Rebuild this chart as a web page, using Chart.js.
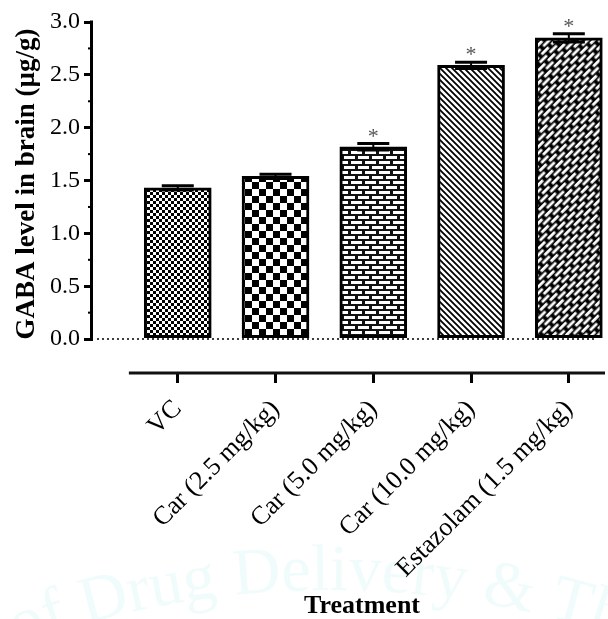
<!DOCTYPE html>
<html>
<head>
<meta charset="utf-8">
<title>GABA level in brain</title>
<script src="https://cdn.jsdelivr.net/npm/chart.js@4.4.1/dist/chart.umd.min.js"></script>
<style>
  html, body { margin: 0; padding: 0; background: #fff; }
  #chart { display: block; }
</style>
</head>
<body>
<canvas id="chart" width="608" height="619"></canvas>
<script>
// values
const categories = ['VC', 'Car (2.5 mg/kg)', 'Car (5.0 mg/kg)', 'Car (10.0 mg/kg)', 'Estazolam (1.5 mg/kg)'];
const gabaMeans = [1.43, 1.54, 1.82, 2.59, 2.85];
const gabaSem = [0.02, 0.02, 0.03, 0.03, 0.04];
const significant = [false, false, true, true, true];
const yTicks = [0, 0.5, 1.0, 1.5, 2.0, 2.5, 3.0];
const yMinorTicks = [0.25, 0.75, 1.25, 1.75, 2.25, 2.75];

const serif = "'Liberation Serif', 'Times New Roman', serif";

// small tiles used as bar fills
function makeTile(w, h, draw) {
  const c = document.createElement('canvas');
  c.width = w; c.height = h;
  const g = c.getContext('2d');
  draw(g, w, h);
  return c;
}

function fillPatterns(ctx) {
  const fineChecker = makeTile(6, 6, (g) => {
    g.fillStyle = '#fff'; g.fillRect(0, 0, 6, 6);
    g.fillStyle = '#000'; g.fillRect(0, 0, 3, 3); g.fillRect(3, 3, 3, 3);
  });
  const bigChecker = makeTile(14, 14, (g) => {
    g.fillStyle = '#fff'; g.fillRect(0, 0, 14, 14);
    g.fillStyle = '#000'; g.fillRect(0, 0, 7, 7); g.fillRect(7, 7, 7, 7);
  });
  const bricks = makeTile(14, 10, (g) => {
    g.fillStyle = '#111'; g.fillRect(0, 0, 14, 10);
    g.fillStyle = '#fff';
    g.fillRect(1, 1, 11, 3);
    g.fillRect(-6, 6, 11, 3); g.fillRect(8, 6, 11, 3);
  });
  const diag = makeTile(6, 6, (g) => {
    g.fillStyle = '#fff'; g.fillRect(0, 0, 6, 6);
    g.strokeStyle = '#000'; g.lineWidth = 1.8;
    g.beginPath();
    [-6, 0, 6].forEach(k => { g.moveTo(k - 1, -1); g.lineTo(k + 7, 7); });
    g.stroke();
  });
  const diagBricks = makeTile(14, 9, (g) => {
    g.fillStyle = '#000'; g.fillRect(0, 0, 14, 9);
    g.fillStyle = '#fff';
    g.fillRect(1.5, 1.5, 10, 2.8);
    g.fillRect(-5.5, 6, 10, 2.8); g.fillRect(8.5, 6, 10, 2.8);
  });

  const p5 = ctx.createPattern(diagBricks, 'repeat');
  p5.setTransform(new DOMMatrix().rotateSelf(-45));
  return [
    ctx.createPattern(fineChecker, 'repeat'),
    ctx.createPattern(bigChecker, 'repeat'),
    ctx.createPattern(bricks, 'repeat'),
    ctx.createPattern(diag, 'repeat'),
    p5
  ];
}

// faint circular watermark of the journal
const watermark = {
  id: 'watermark',
  beforeDraw(chart) {
    const ctx = chart.ctx;
    const text = 'of Drug Delivery & Thera';
    const cx = 330, cy = 1490, r = 900;
    ctx.save();
    ctx.fillStyle = 'rgba(120, 215, 215, 0.11)';
    ctx.font = "66px " + serif;
    ctx.textAlign = 'center';
    ctx.textBaseline = 'alphabetic';
    const total = ctx.measureText(text).width;
    let a = -Math.PI / 2 - (total / 2) / r + 0.03;
    for (const ch of text) {
      const w = ctx.measureText(ch).width;
      a += (w / 2) / r;
      ctx.save();
      ctx.translate(cx + r * Math.cos(a), cy + r * Math.sin(a));
      ctx.rotate(a + Math.PI / 2);
      ctx.fillText(ch, 0, 0);
      ctx.restore();
      a += (w / 2) / r;
    }
    ctx.restore();
  }
};

// axis lines, minor ticks, dotted zero line
const axesLines = {
  id: 'axesLines',
  beforeDatasetsDraw(chart) {
    const { ctx, chartArea, scales } = chart;
    const y0 = scales.y.getPixelForValue(0);
    ctx.save();
    ctx.strokeStyle = '#000';
    ctx.lineWidth = 1.6;
    ctx.setLineDash([2, 3]);
    ctx.beginPath();
    ctx.moveTo(chartArea.left + 4, y0);
    ctx.lineTo(chartArea.right - 8, y0);
    ctx.stroke();
    ctx.setLineDash([]);
    ctx.restore();
  },
  afterDraw(chart) {
    const { ctx, chartArea, scales } = chart;
    const y = scales.y, x = scales.x;
    const left = chartArea.left;
    ctx.save();
    ctx.strokeStyle = '#000';
    ctx.lineWidth = 3;
    ctx.beginPath();
    ctx.moveTo(left - 1.5, y.getPixelForValue(3.0) - 1.5);
    ctx.lineTo(left - 1.5, y.getPixelForValue(0) + 1.5);
    ctx.stroke();

    ctx.lineWidth = 2;
    yMinorTicks.forEach(v => {
      const py = y.getPixelForValue(v);
      ctx.beginPath();
      ctx.moveTo(left - 5, py);
      ctx.lineTo(left, py);
      ctx.stroke();
    });

    ctx.lineWidth = 3;
    ctx.strokeStyle = '#111';
    ctx.beginPath();
    ctx.moveTo(x.getPixelForValue(-0.5), chartArea.bottom);
    ctx.lineTo(chartArea.right, chartArea.bottom);
    ctx.stroke();
    ctx.restore();
  }
};

// SEM error bars and significance marks
const errorBars = {
  id: 'errorBars',
  afterDatasetsDraw(chart) {
    const { ctx, scales } = chart;
    const x = scales.x, y = scales.y;
    ctx.save();
    ctx.strokeStyle = '#000';
    gabaMeans.forEach((m, i) => {
      const px = x.getPixelForValue(i);
      const hi = y.getPixelForValue(m + gabaSem[i]);
      const lo = y.getPixelForValue(m - gabaSem[i]);
      const half = 16;
      ctx.lineWidth = 2;
      ctx.beginPath();
      ctx.moveTo(px, hi); ctx.lineTo(px, lo);
      ctx.stroke();
      ctx.lineWidth = 3;
      ctx.beginPath();
      ctx.moveTo(px - half, hi); ctx.lineTo(px + half, hi);
      ctx.moveTo(px - half, lo); ctx.lineTo(px + half, lo);
      ctx.stroke();
      if (significant[i]) {
        ctx.fillStyle = '#555';
        ctx.font = "22px " + serif;
        ctx.textAlign = 'center';
        ctx.textBaseline = 'alphabetic';
        ctx.fillText('*', px, hi - 1);
      }
    });
    ctx.restore();
  }
};

const canvas = document.getElementById('chart');
const ctx = canvas.getContext('2d');

new Chart(ctx, {
  type: 'bar',
  data: {
    datasets: [{
      data: gabaMeans.map((v, i) => ({ x: i, y: v })),
      backgroundColor: fillPatterns(ctx),
      borderColor: '#000',
      borderWidth: 3,
      borderSkipped: false,
      barThickness: 67
    }]
  },
  options: {
    responsive: false,
    animation: false,
    layout: { padding: { top: 22, right: 3, left: 0, bottom: 0 } },
    plugins: {
      legend: { display: false },
      tooltip: { enabled: false }
    },
    scales: {
      x: {
        type: 'linear',
        offset: false,
        min: -0.867,
        max: 4.37,
        afterBuildTicks(s) { s.ticks = categories.map((c, i) => ({ value: i })); },
        afterFit(s) { s.height = 246; },
        ticks: {
          callback: (v) => categories[v],
          autoSkip: false,
          minRotation: 45,
          maxRotation: 45,
          padding: 11,
          color: '#000',
          font: { family: serif, size: 26 }
        },
        grid: { offset: false, drawOnChartArea: false, drawTicks: true, tickLength: 10, lineWidth: 3, color: '#000' },
        border: { display: false },
        title: {
          display: true,
          text: '    Treatment',
          color: '#000',
          padding: 0,
          font: { family: serif, size: 26, weight: 'bold', lineHeight: 1 }
        }
      },
      y: {
        min: -0.321,
        max: 3.0,
        afterBuildTicks(s) { s.ticks = yTicks.map(v => ({ value: v })); },
        afterFit(s) { s.width = 93; },
        ticks: {
          callback: (v) => v.toFixed(1),
          padding: 4,
          color: '#000',
          font: { family: serif, size: 24 }
        },
        grid: { drawOnChartArea: false, drawTicks: true, tickLength: 9, lineWidth: 3, color: '#000' },
        border: { display: false },
        title: {
          display: true,
          text: '    GABA level in brain (µg/g)',
          color: '#000',
          padding: { top: 14, bottom: 0 },
          font: { family: serif, size: 27, weight: 'bold', lineHeight: 1 }
        }
      }
    }
  },
  plugins: [watermark, axesLines, errorBars]
});
</script>
</body>
</html>
